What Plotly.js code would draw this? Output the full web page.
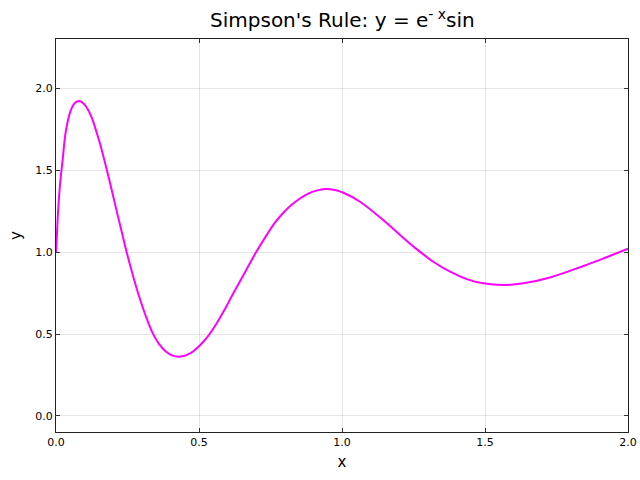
<!DOCTYPE html>
<html>
<head>
<meta charset="utf-8">
<script src="https://cdn.plot.ly/plotly-3.0.1.min.js"></script>
<style>html,body{margin:0;padding:0;background:#fff;}#chart{width:640px;height:480px;}</style>
</head>
<body>
<div id="chart"></div>
<script>
var xValues = [0, 0.003, 0.008, 0.014, 0.023, 0.035, 0.052, 0.066, 0.082, 0.097, 0.111, 0.125, 0.140, 0.155, 0.170, 0.185, 0.200, 0.215, 0.231, 0.247, 0.263, 0.280, 0.297, 0.317, 0.338, 0.360, 0.383, 0.408, 0.434, 0.469, 0.503, 0.533, 0.562, 0.590, 0.620, 0.660, 0.700, 0.737, 0.765, 0.795, 0.825, 0.853, 0.882, 0.911, 0.941, 0.975, 1.005, 1.063, 1.144, 1.203, 1.261, 1.319, 1.378, 1.436, 1.494, 1.564, 1.634, 1.727, 1.844, 1.920, 2.0];
var yValues = [1.0, 1.10, 1.27, 1.41, 1.56, 1.744, 1.866, 1.91, 1.921, 1.905, 1.872, 1.82, 1.742, 1.655, 1.555, 1.45, 1.34, 1.23, 1.115, 1.0, 0.895, 0.79, 0.695, 0.595, 0.505, 0.44, 0.395, 0.368, 0.362, 0.382, 0.43, 0.49, 0.565, 0.65, 0.748, 0.874, 1.0, 1.105, 1.178, 1.24, 1.29, 1.327, 1.357, 1.375, 1.384, 1.378, 1.362, 1.307, 1.195, 1.104, 1.018, 0.941, 0.880, 0.835, 0.809, 0.799, 0.809, 0.845, 0.915, 0.965, 1.02];
var xTicks = [0, 0.5, 1.0, 1.5, 2.0];
var xTickText = ["0.0", "0.5", "1.0", "1.5", "2.0"];
var yTicks = [0, 0.5, 1.0, 1.5, 2.0];
var yTickText = ["0.0", "0.5", "1.0", "1.5", "2.0"];

var trace = {
  x: xValues, y: yValues, type: 'scatter', mode: 'lines',
  line: {color: '#ff00ff', width: 2, shape: 'spline', smoothing: 1},
  showlegend: false, hoverinfo: 'none'
};
var axisCommon = {
  showline: true, linecolor: '#222', linewidth: 1, mirror: 'ticks',
  ticks: 'inside', ticklen: 4, tickcolor: '#333', tickwidth: 1,
  showgrid: true, gridcolor: 'rgba(0,0,0,0.1)', gridwidth: 1,
  zeroline: false, tickfont: {family: 'DejaVu Sans', size: 11, color: '#000'}
};
var layout = {
  width: 640, height: 480,
  margin: {l: 56, r: 12, t: 39, b: 48, pad: 0},
  paper_bgcolor: '#fff', plot_bgcolor: '#fff',
  title: {text: "Simpson's Rule: y = e<sup>- x</sup>sin", font: {family: 'DejaVu Sans', size: 20, color: '#000'}, x: 0.535, xanchor: 'center', y: 0.958, yanchor: 'middle'},
  xaxis: Object.assign({}, axisCommon, {range: [0, 2], tickvals: xTicks, ticktext: xTickText,
    title: {text: 'x', standoff: 8, font: {family: 'DejaVu Sans', size: 15, color: '#000'}}}),
  yaxis: Object.assign({}, axisCommon, {range: [-0.098, 2.3], tickvals: yTicks, ticktext: yTickText,
    title: {text: 'y', standoff: 10, font: {family: 'DejaVu Sans', size: 15, color: '#000'}}})
};
Plotly.newPlot('chart', [trace], layout, {staticPlot: true, displayModeBar: false});
</script>
</body>
</html>
